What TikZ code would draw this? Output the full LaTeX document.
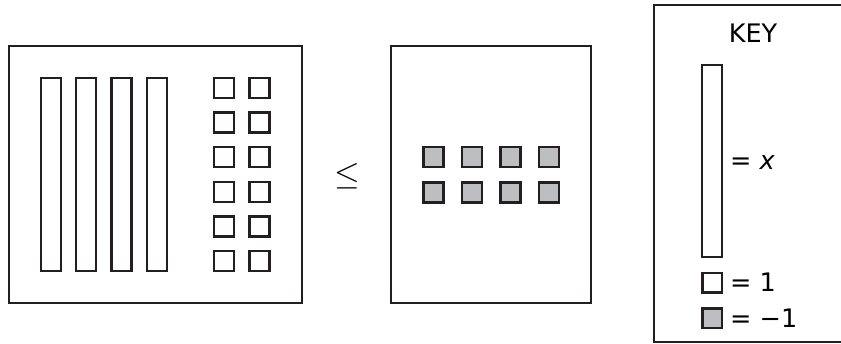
\documentclass[tikz,border=0pt]{standalone}
\usepackage{fontspec}
\setmainfont{DejaVu Sans}
\definecolor{negfill}{HTML}{BCBEC0}
\definecolor{ink}{HTML}{231F20}
\begin{document}
\begin{tikzpicture}[x=1pt,y=-1pt,
  frame/.style={draw=ink,line width=1.8pt},
  tile/.style={draw=ink,line width=2.3pt,fill=white},
  neg/.style={draw=ink,line width=2.3pt,fill=negfill},
  lbl/.style={inner sep=0pt,font=\fontsize{25.5}{30}\selectfont}]
\useasboundingbox (0,0) rectangle (841,343);
% left panel
\draw[frame] (9,46) rectangle (302,303);
\foreach \x in {41,76.3,111.6,147} \draw[tile] (\x,78) rectangle ++(20,193);
\foreach \y in {78,112.6,147.2,181.8,216.4,251}
  \foreach \x in {214,249.5} \draw[tile] (\x,\y) rectangle ++(20,20);
% relation
\node[inner sep=0pt] (le) at (347.5,176.5) {\scalebox{3.3}{$\leq$}};
% middle panel
\draw[frame] (391,46) rectangle (591,303);
\foreach \y in {147,182.5}
  \foreach \x in {423.5,462,500.5,539} \draw[neg] (\x,\y) rectangle ++(20,20);
% key
\draw[frame] (860,5) -- (654,5) -- (654,342) -- (860,342);
\node[lbl] (key) at (753,33) {KEY};
\draw[tile] (702,65) rectangle (722,257);
\node[lbl,anchor=west] (ex) at (730,163) {= \textit{x}};
\draw[tile] (702.5,273) rectangle ++(19.5,19.5);
\node[lbl,anchor=west] (e1) at (730,282.5) {= 1};
\draw[neg] (702.5,308.5) rectangle ++(19.5,19.5);
\node[lbl,anchor=west] (em1) at (730,318) {= −1};
\end{tikzpicture}
\end{document}
